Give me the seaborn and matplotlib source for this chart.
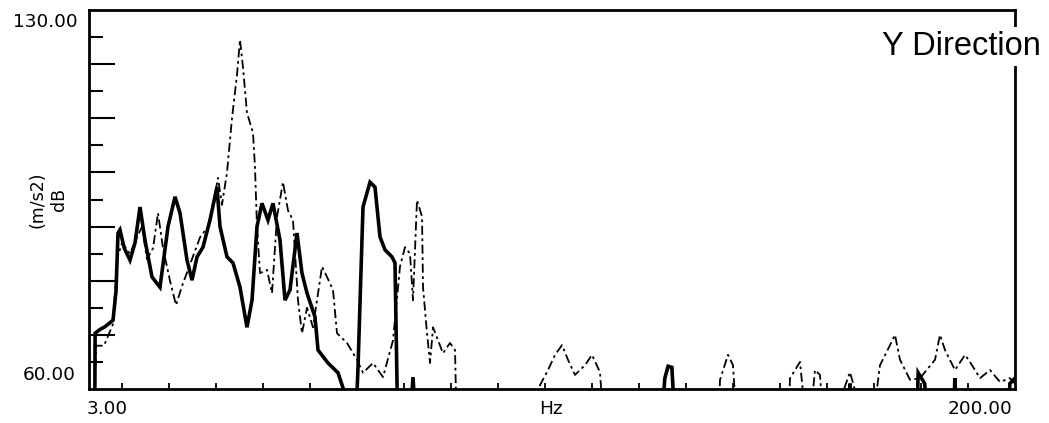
import matplotlib
matplotlib.use("Agg")
import matplotlib.pyplot as plt
import numpy as np
import pandas as pd
import seaborn as sns

# ---------------- data ----------------
solid_hz = [3.85, 4.20, 4.30, 5.34, 6.40, 8.11, 8.74, 9.17, 9.59, 10.50, 11.72, 12.79,
            13.85, 14.91, 16.40, 18.10, 19.81, 21.30, 22.36, 23.85, 24.91, 25.98,
            27.25, 28.74, 30.23, 30.87, 32.36, 33.63, 35.12, 36.61, 37.68, 38.74,
            39.80, 41.08, 42.14, 43.63, 44.70, 45.76, 47.25, 48.31, 49.38, 51.08,
            51.72, 53.84, 55.97, 57.89, 59.59, 60.23, 61.29, 62.78, 63.84, 64.91,
            65.97, 67.46, 68.10, 68.74, 71.00, 71.93, 72.78, 124.5, 125.5, 126.2,
            127.0, 127.9, 164.5, 164.9, 165.6, 179.0, 179.4, 180.8, 181.5, 186.8,
            187.2, 187.8, 198.5, 198.9, 200.0]
solid_db = [50, 50, 70.3, 71.0, 71.5, 72.7, 78.0, 88.8, 89.4, 86.0, 83.8, 87.0,
            93.6, 87.5, 80.7, 78.8, 90.0, 95.5, 92.5, 83.8, 80.1, 84.4,
            86.2, 91.2, 97.3, 90.0, 84.4, 83.3, 78.8, 71.4, 76.4, 90.0,
            94.3, 91.2, 94.3, 87.5, 76.4, 78.3, 88.8, 81.4, 77.7, 73.3,
            67.2, 64.8, 63.0, 58.0, 50, 64.0, 93.6, 98.2, 97.3, 88.1,
            85.7, 84.4, 83.3, 50, 50, 62.2, 50, 50, 62.0, 64.2,
            64.0, 50, 50, 61.0, 50, 50, 63.0, 61.0, 50, 50,
            62.0, 50, 50, 61.0, 62.0]

dashed_hz = [3.85, 4.50, 6.19, 8.11, 8.96, 10.02, 11.72, 13.21, 14.28, 15.34, 16.62,
             17.68, 18.74, 20.23, 21.51, 22.78, 24.49, 26.61, 28.32, 29.81, 30.44,
             31.29, 32.36, 33.42, 34.48, 35.12, 35.75, 36.61, 37.89, 38.31, 38.74,
             39.38, 40.87, 41.93, 43.00, 44.27, 45.33, 46.40, 47.46, 48.31, 49.38,
             50.65, 52.57, 53.63, 54.91, 55.76, 57.89, 60.01, 61.29, 63.42, 65.55,
             67.68, 69.16, 70.23, 71.29, 71.93, 72.78, 73.85, 74.06, 74.91, 75.55,
             76.19, 77.25, 78.31, 79.80, 80.87, 81.29, 98.50, 98.94, 100.65, 102.14,
             103.63, 104.90, 106.39, 108.52, 110.01, 111.71, 112.77, 136.8, 137.24,
             138.94, 140.00, 141.07, 151.7, 152.13, 154.26, 155.96, 157.45, 158.51,
             159.58, 164.89, 169.15, 171.28, 173.41, 174.47, 175.53, 177.66, 179.79,
             182.98, 184.04, 185.11, 187.23, 189.36, 190.42, 192.55, 194.68, 196.81,
             198.94, 200.0]
dashed_db = [50, 68.0, 68.0, 72.0, 84.0, 87.0, 85.0, 88.0, 90.0, 84.0, 86.0,
             92.5, 86.0, 80.0, 75.5, 79.0, 83.0, 88.0, 90.0, 96.0, 99.0,
             94.0, 100.0, 110.0, 118.0, 124.5, 119.5, 111.0, 107.3, 101.0, 90.0,
             81.4, 82.0, 77.7, 91.8, 98.2, 93.0, 91.2, 76.4, 70.3, 75.0,
             71.4, 82.6, 80.7, 78.3, 70.3, 68.5, 65.4, 63.0, 64.8, 62.2,
             69.0, 82.6, 86.2, 85.0, 76.4, 94.9, 91.8, 78.8, 70.3, 64.8,
             71.4, 69.0, 66.6, 68.5, 67.2, 50, 50, 60.7, 63.5, 66.3,
             68.1, 65.4, 62.6, 64.4, 66.3, 63.1, 50, 50, 61.7,
             66.3, 64.4, 50, 50, 62.0, 65.0, 50, 63.5, 62.6,
             50, 63.1, 50, 64.4, 68.1, 70.0, 65.4, 61.7, 62.0,
             65.4, 70.0, 67.2, 63.5, 66.3, 65.0, 62.0, 63.5, 61.3,
             62.0, 61.0]

y_major_db = [70, 80, 90, 100, 110, 120]
y_minor_db = [65, 75, 85, 95, 105, 115, 125]
x_minor_hz = [10, 20, 30, 40, 50, 60, 70, 80, 90, 100, 110, 120, 130, 140, 150,
              160, 170, 180, 190]
y_labels = ["60.00", "130.00"]
x_labels = ["3.00", "Hz", "200.00"]
title_text = "Y Direction"

# ---------------- plot ----------------
sns.set_style("white")
plt.rcParams["font.family"] = ["DejaVu Sans"]
plt.rcParams["text.color"] = "black"
plt.rcParams["axes.labelcolor"] = "black"

W, H = 1049, 423
fig = plt.figure(figsize=(W / 100, H / 100), dpi=100)
ax = fig.add_axes([89 / W, 1 - 389 / H, (1015 - 89) / W, (389 - 10) / H])

df_d = pd.DataFrame({"hz": dashed_hz, "db": dashed_db})
df_s = pd.DataFrame({"hz": solid_hz, "db": solid_db})

sns.lineplot(data=df_d, x="hz", y="db", ax=ax, color="black", linewidth=1.3,
             linestyle=(0, (5, 2, 1.5, 2)), estimator=None, sort=False)
sns.lineplot(data=df_s, x="hz", y="db", ax=ax, color="black", linewidth=2.6,
             estimator=None, sort=False, solid_joinstyle="miter")

ax.set_xlim(3, 200)
ax.set_ylim(60, 130)
ax.set_xlabel("")
ax.set_ylabel("(m/s2)\ndB", fontsize=12.5, labelpad=12, multialignment="center",
              color="black")

ax.set_yticks(y_major_db)
ax.set_yticks(y_minor_db, minor=True)
ax.set_xticks([])
ax.set_xticks(x_minor_hz, minor=True)
ax.tick_params(axis="y", which="major", direction="in", length=19, width=1.5,
               left=True, labelleft=False, color="black")
ax.tick_params(axis="y", which="minor", direction="in", length=10, width=1.5,
               left=True, color="black")
ax.tick_params(axis="x", which="both", direction="in", length=4.5, width=1.3,
               bottom=True, labelbottom=False, color="black")

for sp in ax.spines.values():
    sp.set_visible(True)
    sp.set_color("black")
    sp.set_linewidth(2.0)

fs = 13.3
txt_kw = dict(fontsize=fs, color="black", textcoords="offset pixels")
ax.annotate(y_labels[1], xy=(0, 130), xycoords=("axes fraction", "data"),
            xytext=(-11, -3), ha="right", va="top", **txt_kw)
ax.annotate(y_labels[0], xy=(0, 60), xycoords=("axes fraction", "data"),
            xytext=(-13, 5), ha="right", va="bottom", **txt_kw)
ax.annotate(x_labels[0], xy=(3, 0), xycoords=("data", "axes fraction"),
            xytext=(-2, -11), ha="left", va="top", **txt_kw)
ax.annotate(x_labels[1], xy=(0.497, 0), xycoords="axes fraction",
            xytext=(2, -11), ha="center", va="top", **txt_kw)
ax.annotate(x_labels[2], xy=(200, 0), xycoords=("data", "axes fraction"),
            xytext=(-3, -11), ha="right", va="top", **txt_kw)

fig.text(882 / W, 1 - 55 / H, title_text, fontsize=23.5, color="black",
         family=["Liberation Sans", "DejaVu Sans"],
         ha="left", va="baseline", zorder=10,
         bbox=dict(facecolor="white", edgecolor="none", pad=3))

fig.savefig("out.png", dpi=100, facecolor="white")
